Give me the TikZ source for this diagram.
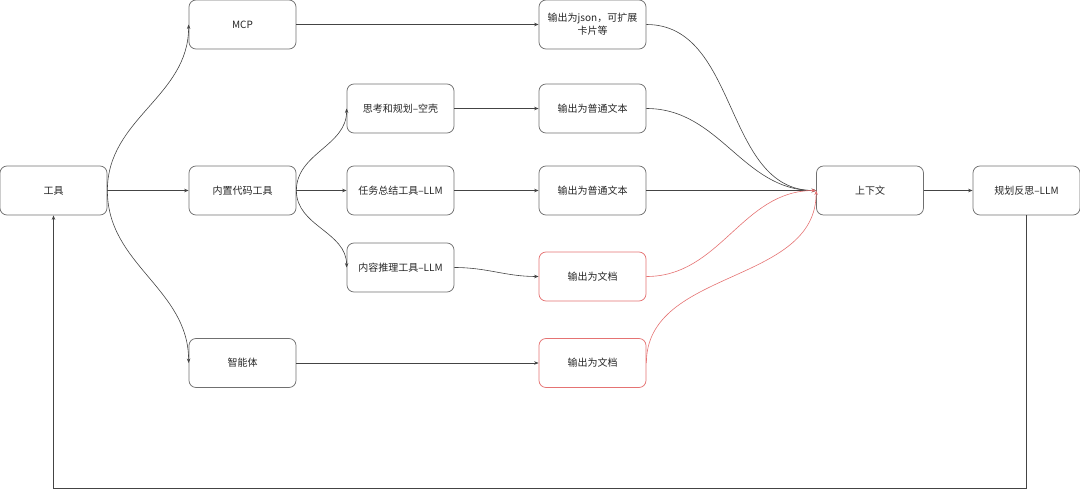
\documentclass[tikz,border=0pt]{standalone}
\usepackage{fontspec}
\setmainfont{Noto Sans CJK SC}
\usetikzlibrary{arrows.meta}
\definecolor{edge}{HTML}{444444}
\definecolor{boxline}{HTML}{707070}
\definecolor{redline}{HTML}{E57373}
\tikzset{
  box/.style={draw=boxline, line width=0.75pt, rounded corners=7pt, minimum width=107pt, minimum height=49pt, inner sep=2pt, font=\fontsize{10}{13}\selectfont, text=black!85, align=center, fill=white},
  redbox/.style={box, draw=redline},
  conn/.style={draw=edge, line width=0.6pt, -{Stealth[length=4.5pt,width=3.5pt]}},
  redconn/.style={conn, draw=redline, -{Stealth[length=4.5pt,width=3.5pt,fill=redline]}}
}
\begin{document}
\begin{tikzpicture}[x=1pt,y=-1pt]
\useasboundingbox (0,0) rectangle (1080,490);
\node[box] (tool) at (53.5,190.5) {工具};
\node[box] (mcp) at (242.5,24.5) {MCP};
\node[box] (code) at (242.5,190.5) {内置代码工具};
\node[box] (agent) at (242.5,363) {智能体};
\node[box] (think) at (400.5,108.5) {思考和规划–空壳};
\node[box] (summ) at (400.5,190.5) {任务总结工具–LLM};
\node[box] (infer) at (400.5,267.5) {内容推理工具–LLM};
\node[box] (json) at (592.5,24.5) {输出为json，可扩展\\卡片等};
\node[box] (txt1) at (592.5,108.5) {输出为普通文本};
\node[box] (txt2) at (592.5,190.5) {输出为普通文本};
\node[redbox] (doc1) at (592.5,276.5) {输出为文档};
\node[redbox] (doc2) at (592.5,363) {输出为文档};
\node[box] (ctx) at (870,190.5) {上下文};
\node[box] (plan) at (1026.5,190.5) {规划反思–LLM};
\coordinate (br) at (1026.5,488);
\coordinate (bl) at (53.5,488);

\draw[conn] (tool.east) to[out=90,in=-90] (mcp.west);
\draw[conn] (tool.east) -- (code.west);
\draw[conn] (tool.east) to[out=-90,in=90] (agent.west);
\draw[conn] (code.east) to[out=90,in=-90] (think.west);
\draw[conn] (code.east) -- (summ.west);
\draw[conn] (code.east) to[out=-90,in=90] (infer.west);
\draw[conn] (mcp.east) -- (json.west);
\draw[conn] (think.east) -- (txt1.west);
\draw[conn] (summ.east) -- (txt2.west);
\draw[conn] (infer.east) to[out=0,in=180] (doc1.west);
\draw[conn] (agent.east) -- (doc2.west);
\draw[conn] (json.east) to[out=0,in=180] (ctx.west);
\draw[conn] (txt1.east) to[out=0,in=180] (ctx.west);
\draw[conn] (txt2.east) -- (ctx.west);
\draw[redconn] (doc1.east) to[out=0,in=180] (ctx.west);
\draw[redconn] (doc2.east) to[out=90,in=-90] (ctx.west);
\draw[conn] (ctx.east) -- (plan.west);
\draw[conn] (plan.south) -- (br) -- (bl) -- (tool.south);
\end{tikzpicture}
\end{document}
